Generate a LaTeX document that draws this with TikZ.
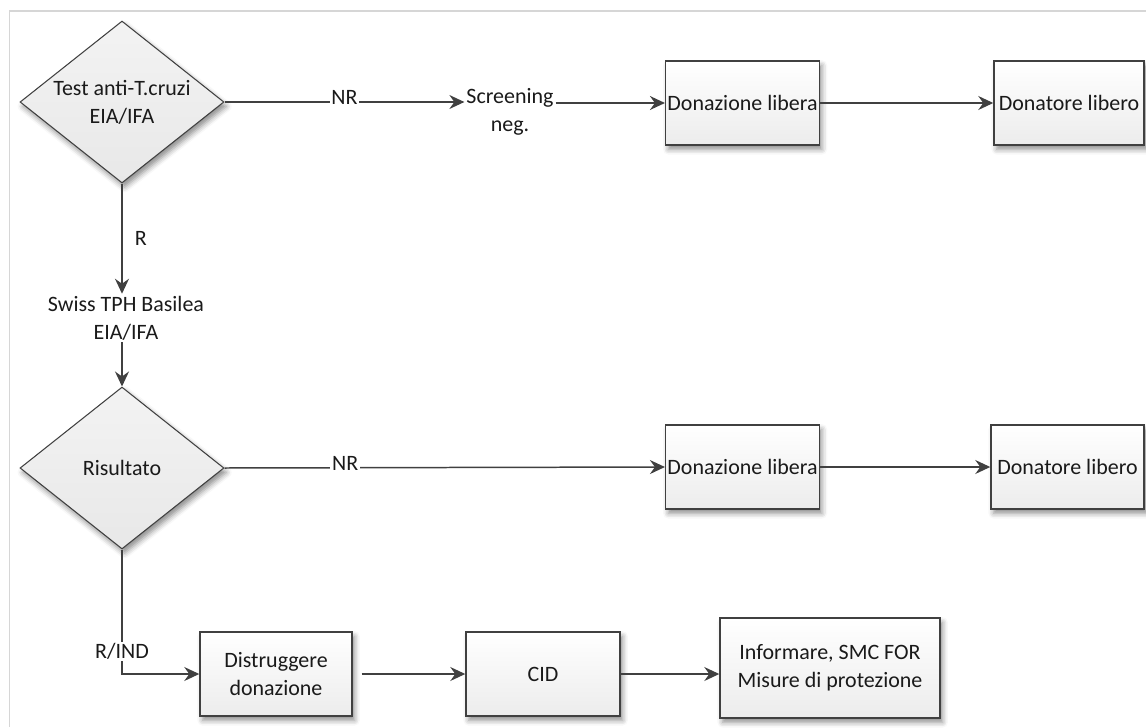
\documentclass[tikz,border=0pt]{standalone}
\usepackage{fontspec}
\setmainfont{Carlito}
\usepackage{tikz}
\usetikzlibrary{arrows.meta,shapes.geometric,shadows.blur}
\definecolor{LineCol}{HTML}{404040}
\definecolor{FrameCol}{HTML}{D6D6D6}
\definecolor{BoxBot}{HTML}{ECECEC}
\definecolor{DecTop}{HTML}{F3F3F3}
\definecolor{DecBot}{HTML}{E8E8E8}
\definecolor{TextCol}{HTML}{1A1A1A}

\begin{document}
\begin{tikzpicture}[x=0.02cm, y=-0.02cm,
  every node/.style={font=\fontsize{12.5}{16}\selectfont, text=TextCol},
  decision/.style={draw=LineCol, line width=0.6pt, diamond, aspect=1.26,
    minimum width=4.08cm, minimum height=3.24cm, inner sep=1pt, align=center,
    top color=DecTop, bottom color=DecBot,
    blur shadow={shadow xshift=1.5pt, shadow yshift=-2.5pt, shadow blur radius=3pt, shadow opacity=45}},
  procbox/.style={draw=LineCol, line width=0.85pt, rectangle, align=center,
    inner sep=1pt, top color=white, bottom color=BoxBot,
    blur shadow={shadow xshift=1.5pt, shadow yshift=-2.5pt, shadow blur radius=3pt, shadow opacity=45}},
  flow/.style={draw=LineCol, line width=0.85pt, -{Stealth[length=3mm,width=2.8mm,inset=1mm]}},
  edgelabel/.style={fill=white, inner sep=1pt, yshift=2.5pt}]
  \useasboundingbox (0,0) rectangle (1146,727);
  % frame
  \draw[FrameCol, line width=0.6pt] (1146,11) -- (9.6,11) -- (9.6,727);

  % first test
  \node[decision] (A) at (122,102) {Test anti-T.cruzi\\EIA/IFA};
  \node[inner sep=1pt, align=center] (S) at (510,112) {Screening\\neg.};
  \node[procbox, minimum width=3.06cm, minimum height=1.68cm] (B1) at (742.5,103) {Donazione libera};
  \node[procbox, minimum width=3.0cm, minimum height=1.68cm] (B2) at (1069,103) {Donatore libero};

  \draw[flow] (A.east) -- node[edgelabel] {NR} (A.east -| S.west);
  \draw[flow] (S.east |- B1.west) -- (B1.west);
  \draw[flow] (B1.east) -- (B2.west);

  % confirmation
  \node[align=center, inner sep=1pt] (T) at (126,318) {Swiss TPH Basilea\\EIA/IFA};
  \draw[flow] (A.south) -- node[right=3.5pt] {R} (A.south |- T.north);

  \node[decision] (D) at (122,468) {Risultato};
  \draw[flow] (A.south |- T.south) -- (D.north);

  \node[procbox, minimum width=3.06cm, minimum height=1.68cm] (C1) at (742.5,467) {Donazione libera};
  \node[procbox, minimum width=3.06cm, minimum height=1.68cm] (C2) at (1067.5,467) {Donatore libero};
  \draw[flow] (D.east) -- node[edgelabel, pos=0.274] {NR} (C1.west);
  \draw[flow] (C1.east) -- (C2.west);

  % reactive branch
  \node[procbox, minimum width=3.04cm, minimum height=1.68cm] (E) at (276,674) {Distruggere\\donazione};
  \node[procbox, minimum width=3.08cm, minimum height=1.68cm] (F) at (543,674) {CID};
  \node[procbox, minimum width=4.4cm, minimum height=2.0cm] (G) at (830,668) {Informare, SMC FOR\\Misure di protezione};
  \draw[flow] (D.south) |- node[pos=0.41, fill=white, inner sep=1pt] {R/IND} (E.west);
  \draw[flow, shorten <=0.18cm] (E.east) -- (F.west);
  \draw[flow] (F.east) -- (F.east -| G.west);
\end{tikzpicture}
\end{document}
